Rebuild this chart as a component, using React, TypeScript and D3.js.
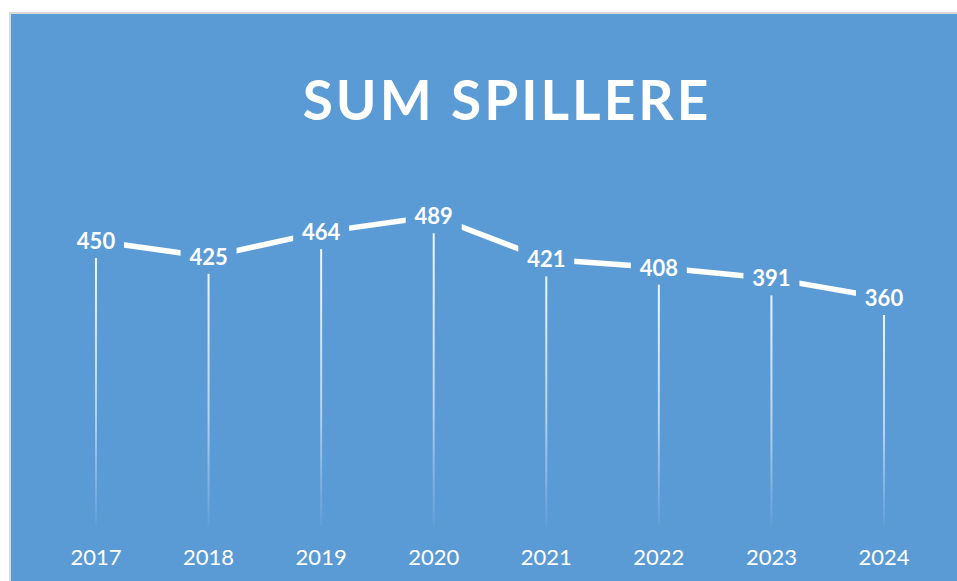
import React from "react";
import * as d3 from "d3";

const years = ["2017", "2018", "2019", "2020", "2021", "2022", "2023", "2024"];
const values = [450, 425, 464, 489, 421, 408, 391, 360];
const title = "SUM SPILLERE";

const W = 957;
const H = 581;
const BG = "#5B9BD5";

export default function App() {
  const x = d3.scalePoint<string>().domain(years).range([96, 884]);
  const y = d3.scaleLinear().domain([0, 600]).range([526, 146]);
  const line = d3
    .line<number>()
    .x((_, i) => x(years[i]) as number)
    .y((d) => y(d));

  return (
    <svg
      width={W}
      height={H}
      style={{ position: "absolute", left: 0, top: 0, display: "block" }}
      fontFamily="Lato, 'Open Sans', sans-serif"
    >
      <defs>
        <linearGradient id="drop" x1="0" y1="0" x2="0" y2="1">
          <stop offset="0" stopColor="#fff" stopOpacity={0.95} />
          <stop offset="0.6" stopColor="#fff" stopOpacity={0.55} />
          <stop offset="1" stopColor="#fff" stopOpacity={0.03} />
        </linearGradient>
      </defs>
      <rect x={0} y={0} width={W} height={H} fill="#fff" />
      <rect x={9} y={12} width={W} height={H} fill="#D9D9D9" />
      <rect x={11} y={14} width={W} height={H} fill={BG} />
      <text
        x={507}
        y={120}
        textAnchor="middle"
        fill="#fff"
        fontWeight="bold"
        fontSize={55}
        letterSpacing={3}
      >
        {title}
      </text>
      {values.map((v, i) => (
        <rect
          key={"d" + i}
          x={(x(years[i]) as number) - 1}
          y={y(v)}
          width={2}
          height={y(0) - y(v)}
          fill="url(#drop)"
        />
      ))}
      <path d={line(values) || ""} fill="none" stroke="#fff" strokeWidth={5.5} />
      {values.map((v, i) => {
        const cx = x(years[i]) as number;
        const cy = y(v);
        return (
          <g key={"l" + i}>
            <rect x={cx - 28} y={cy - 17} width={56} height={34} fill={BG} />
            <text
              x={cx}
              y={cy + 8}
              textAnchor="middle"
              fill="#fff"
              fontWeight="bold"
              fontSize={22}
            >
              {v}
            </text>
          </g>
        );
      })}
      {years.map((yr) => (
        <text
          key={yr}
          x={x(yr) as number}
          y={565}
          textAnchor="middle"
          fill="#fff"
          fontSize={22}
        >
          {yr}
        </text>
      ))}
    </svg>
  );
}
